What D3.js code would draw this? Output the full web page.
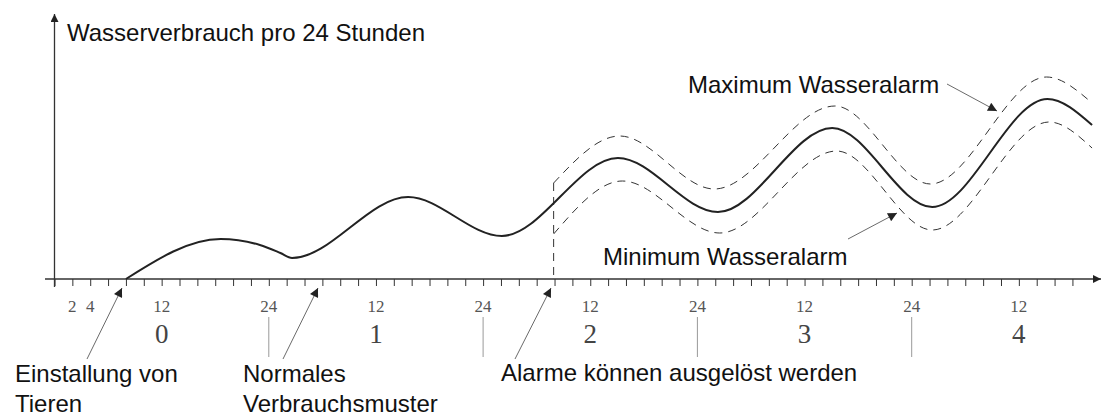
<!DOCTYPE html>
<html>
<head>
<meta charset="utf-8">
<script src="https://cdn.jsdelivr.net/npm/d3@7"></script>
<style>
  html, body { margin: 0; padding: 0; background: #fff; }
  svg { display: block; }
</style>
</head>
<body>
<svg id="chart" width="1102" height="416"></svg>
<script>
// ---- Data (hours since installation, water consumption in arbitrary units) ----
const normalHours  = [8, 18.6, 23.0, 25.3, 26.6, 39.6, 50.1, 63.1, 74.3, 87.1, 98.3, 111.2, 116.2];
const normalValues = [0, 40, 34, 26, 21, 82, 43, 121, 67, 151, 72, 180, 154];

const maxAlarmHours  = [55.9, 63.3, 73.9, 87.4, 98.1, 111.1, 116.2];
const maxAlarmValues = [96, 143, 90, 173, 95, 202, 176];

const minAlarmHours  = [55.9, 63.6, 74.5, 87.6, 98.3, 111.4, 116.2];
const minAlarmValues = [45, 98, 46, 128, 49, 157, 131];

const alarmStartHour = 55.9;

const hourTickValues = [2, 4, 12, 24, 36, 48, 60, 72, 84, 96, 108];
const hourTickLabels = ["2", "4", "12", "24", "12", "24", "12", "24", "12", "24", "12"];
const dayLabels = ["0", "1", "2", "3", "4"];
const dayCenters = [12, 36, 60, 84, 108];
const dayBoundaries = [24, 48, 72, 96];

const yAxisTitle = "Wasserverbrauch pro 24 Stunden";
const labelMax = "Maximum Wasseralarm";
const labelMin = "Minimum Wasseralarm";
const labelInstall = ["Einstallung von", "Tieren"];
const labelNormal = ["Normales", "Verbrauchsmuster"];
const labelAlarm = ["Alarme können ausgelöst werden"];

// ---- Layout ----
const svg = d3.select("#chart");
const x = d3.scaleLinear().domain([0, 24]).range([54.5, 268.8]);
const y = d3.scaleLinear().domain([0, 260]).range([279, 19]);

const axisColor = "#333";
const sans = "'Liberation Sans', Arial, Helvetica, sans-serif";
const serif = "'Liberation Serif', 'Times New Roman', serif";

const defs = svg.append("defs");
defs.append("marker").attr("id", "axisArrow")
  .attr("viewBox", "0 0 10 10").attr("refX", 10).attr("refY", 5)
  .attr("markerWidth", 11).attr("markerHeight", 8).attr("markerUnits", "userSpaceOnUse")
  .attr("orient", "auto")
  .append("path").attr("d", "M0,0 L10,5 L0,10 Z").attr("fill", "#222");
defs.append("marker").attr("id", "noteArrow")
  .attr("viewBox", "0 0 10 10").attr("refX", 10).attr("refY", 5)
  .attr("markerWidth", 12).attr("markerHeight", 9).attr("markerUnits", "userSpaceOnUse")
  .attr("orient", "auto")
  .append("path").attr("d", "M0,0 L10,5 L0,10 Z").attr("fill", "#222");

// minor ticks every 2 hours
const minorTicks = d3.range(0, 115, 2);
const xAxis = d3.axisBottom(x).tickValues(minorTicks).tickSize(7).tickFormat("");
const gx = svg.append("g").attr("transform", `translate(0,${y(0)})`).call(xAxis);
gx.select(".domain").remove();
gx.selectAll(".tick line").attr("stroke", axisColor).attr("stroke-width", 1);

// x axis line with arrow
svg.append("line")
  .attr("x1", 45).attr("x2", 1101).attr("y1", y(0)).attr("y2", y(0))
  .attr("stroke", axisColor).attr("stroke-width", 1.3)
  .attr("marker-end", "url(#axisArrow)");
// y axis line with arrow
svg.append("line")
  .attr("x1", x(0)).attr("x2", x(0)).attr("y1", y(0) + 8).attr("y2", 14)
  .attr("stroke", axisColor).attr("stroke-width", 1.3)
  .attr("marker-end", "url(#axisArrow)");

// hour labels
svg.append("g").selectAll("text").data(hourTickValues).join("text")
  .attr("x", d => x(d)).attr("y", 312)
  .attr("text-anchor", "middle")
  .attr("font-family", serif).attr("font-size", 17).attr("fill", "#555")
  .text((d, i) => hourTickLabels[i]);

// day labels
svg.append("g").selectAll("text").data(dayCenters).join("text")
  .attr("x", d => x(d)).attr("y", 343)
  .attr("text-anchor", "middle")
  .attr("font-family", serif).attr("font-size", 27).attr("fill", "#444")
  .text((d, i) => dayLabels[i]);

// day separators
svg.append("g").selectAll("line").data(dayBoundaries).join("line")
  .attr("x1", d => x(d)).attr("x2", d => x(d))
  .attr("y1", 317).attr("y2", 357)
  .attr("stroke", "#999").attr("stroke-width", 1);

// lines
const line = d3.line().x(d => x(d[0])).y(d => y(d[1])).curve(d3.curveMonotoneX);
const zip = (hs, vs) => hs.map((h, i) => [h, vs[i]]);

svg.append("path").datum(zip(maxAlarmHours, maxAlarmValues))
  .attr("d", line).attr("fill", "none").attr("stroke", "#333")
  .attr("stroke-width", 1).attr("stroke-dasharray", "8,6");
svg.append("path").datum(zip(minAlarmHours, minAlarmValues))
  .attr("d", line).attr("fill", "none").attr("stroke", "#333")
  .attr("stroke-width", 1).attr("stroke-dasharray", "8,6");
svg.append("line")
  .attr("x1", x(alarmStartHour)).attr("x2", x(alarmStartHour))
  .attr("y1", y(maxAlarmValues[0])).attr("y2", y(0))
  .attr("stroke", "#333").attr("stroke-width", 1).attr("stroke-dasharray", "8,6");

svg.append("path").datum(zip(normalHours, normalValues))
  .attr("d", line).attr("fill", "none").attr("stroke", "#222")
  .attr("stroke-width", 2);

// texts
const textG = svg.append("g").attr("font-family", sans).attr("font-size", 24).attr("fill", "#111");
textG.append("text").attr("x", 67).attr("y", 41).text(yAxisTitle);
textG.append("text").attr("x", 688).attr("y", 93).text(labelMax);
textG.append("text").attr("x", 603).attr("y", 265).text(labelMin);
labelInstall.forEach((t, i) => textG.append("text").attr("x", 15).attr("y", 382 + i * 30).text(t));
labelNormal.forEach((t, i) => textG.append("text").attr("x", 243).attr("y", 382 + i * 30).text(t));
labelAlarm.forEach((t, i) => textG.append("text").attr("x", 501).attr("y", 381 + i * 30).text(t));

// annotation arrows
const notes = [
  [[87, 359], [122, 288]],
  [[283, 359], [318, 288]],
  [[515, 359], [551, 288]],
  [[947, 84], [997, 111]],
  [[848, 239], [897, 213]]
];
svg.append("g").selectAll("line").data(notes).join("line")
  .attr("x1", d => d[0][0]).attr("y1", d => d[0][1])
  .attr("x2", d => d[1][0]).attr("y2", d => d[1][1])
  .attr("stroke", "#444").attr("stroke-width", 0.8)
  .attr("marker-end", "url(#noteArrow)");
</script>
</body>
</html>
